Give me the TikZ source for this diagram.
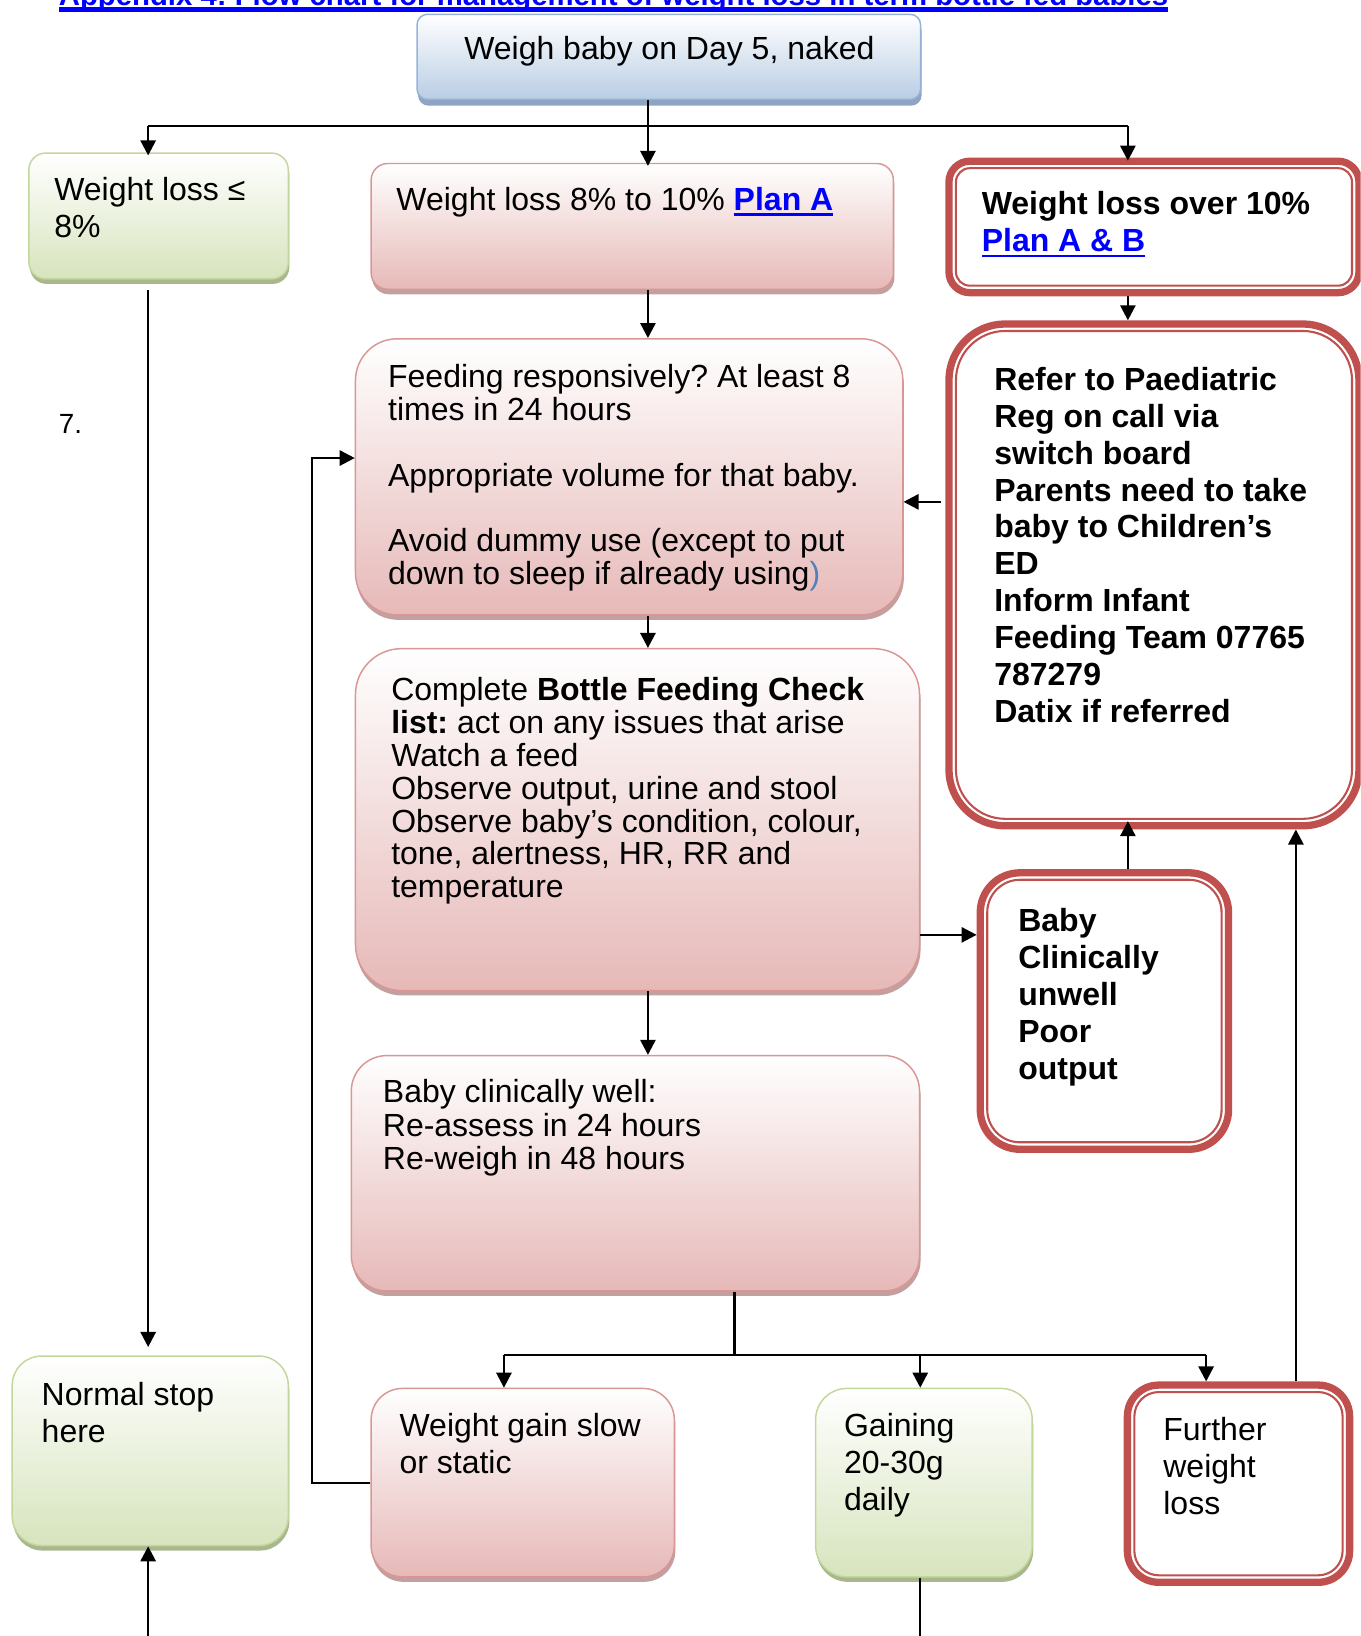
\documentclass[tikz,border=0pt]{standalone}
\usepackage{fontspec}
\setmainfont{Liberation Sans}
\frenchspacing
\usetikzlibrary{arrows.meta,shadows}
\definecolor{bluebot}{HTML}{B9CDE5}
\definecolor{blueedge}{HTML}{95B3D7}
\definecolor{blueshadow}{HTML}{8EA4C2}
\definecolor{greenbot}{HTML}{D7E4BD}
\definecolor{greenedge}{HTML}{C3D69B}
\definecolor{greenshadow}{HTML}{A9B78C}
\definecolor{pinkbot}{HTML}{E6B9B8}
\definecolor{pinkedge}{HTML}{D99694}
\definecolor{pinkshadow}{HTML}{C2A0A0}
\definecolor{redc}{HTML}{C0504D}
\definecolor{linkblue}{HTML}{0000FF}
\definecolor{parenblue}{HTML}{4F81BD}
\newcommand\tlines[1]{\begin{tabular}[t]{@{}l@{}}#1\end{tabular}}
\newcommand\undl[3]{\setbox0\hbox{#1}\rlap{\rule[#2]{\wd0}{#3}}\box0}
\newcommand\bw{1.4}
\newcommand\flowbox[9]{%
  \pgfmathsetmacro\fbLW{\bw*0.5}%
  \pgfmathsetmacro\fbOS{\bw*0.25}%
  \pgfmathsetmacro\fbPW{(#5-#3-\bw)*0.5}%
  \pgfmathsetmacro\fbPH{(#6-#4-\bw)*0.5}%
  \pgfmathsetmacro\fbXS{(#7-#3-\bw/2)*0.5}%
  \pgfmathsetmacro\fbTW{\fbPW-2*\fbXS}%
  \pgfmathsetmacro\fbTH{(#8-#4-\bw/2)*0.5}%
  \pgfmathsetmacro\fbTD{\fbPH-\fbTH}%
  \node[#2, line width=\fbLW pt, outer sep=\fbOS pt, anchor=north west,
        inner xsep=\fbXS pt, inner ysep=0pt, minimum width=\fbPW pt,
        minimum height=\fbPH pt, text height=\fbTH pt, text depth=\fbTD pt]
        (#1) at (#3,#4) {\makebox[\fbTW pt][l]{#9}};%
}
\newcommand\redflowbox[9]{%
  \renewcommand\bw{7}%
  \flowbox{#1}{redbox, rounded corners=#2pt}{#3}{#4}{#5}{#6}{#7}{#8}{#9}%
  \pgfmathsetmacro\fbIR{#2-3.35}%
  \draw[redc, line width=1pt, rounded corners=\fbIR pt]
    ([shift={(5.1pt,-5.1pt)}]#1.north west) rectangle ([shift={(-5.1pt,5.1pt)}]#1.south east);%
  \renewcommand\bw{1.4}%
}
\tikzset{
  basebox/.style={draw, rectangle},
  bluebox/.style={basebox, draw=blueedge, top color=white, bottom color=bluebot,
    general shadow={fill=blueshadow, shadow yshift=-3pt, shadow xshift=0.5pt}},
  greenbox/.style={basebox, draw=greenedge, top color=white, bottom color=greenbot,
    general shadow={fill=greenshadow, shadow yshift=-2.4pt, shadow xshift=0.5pt}},
  pinkbox/.style={basebox, draw=pinkedge, top color=white, bottom color=pinkbot,
    general shadow={fill=pinkshadow, shadow yshift=-2.4pt, shadow xshift=0.5pt}},
  redbox/.style={basebox, draw=redc, fill=white, font=\fontsize{15.33}{17.7}\selectfont\bfseries},
  txt/.style={font=\fontsize{15.33}{17.7}\selectfont},
  txttight/.style={font=\fontsize{15.33}{15.65}\selectfont},
  txtwell/.style={font=\fontsize{15.33}{16}\selectfont},
  conn/.style={draw=black, line width=1pt},
  arr/.style={conn, -{Triangle[length=7.2pt,width=7.3pt]}},
}
\begin{document}
\begin{tikzpicture}[x=0.5pt, y=-0.5pt]
\useasboundingbox (0,0) rectangle (1304,1568);
\clip (0,0) rectangle (1304,1568);

% title (cut off at top, as in the reference)
\node[anchor=base west, inner sep=0pt, font=\fontsize{14.05}{16}\selectfont\bfseries, text=linkblue]
  (title) at (56,5.5) {\undl{Appendix 4: Flow chart for management of weight loss in term bottle fed babies}{-2.85pt}{2.1pt}};

\node[anchor=base west, inner sep=0pt, font=\fontsize{13.3}{15}\selectfont] (seven) at (56,415) {7.};

% boxes
\flowbox{top}{bluebox, rounded corners=5pt, txt}{399}{13}{883}{96}{445}{57}{\tlines{Weigh baby on Day 5, naked}}
\flowbox{le8}{greenbox, rounded corners=8pt, txt}{27}{146}{277}{268}{52}{192}{\tlines{Weight loss ≤\\8\%}}
\flowbox{planA}{pinkbox, rounded corners=8pt, txt}{355}{156}{857}{278}{380}{201.5}{\tlines{Weight loss 8\% to 10\% \textbf{\textcolor{linkblue}{\undl{Plan A}{-2.6pt}{1.1pt}}}}}
\redflowbox{over10}{10}{906}{151}{1306}{284}{941}{206}{\tlines{Weight loss over 10\%\\\textcolor{linkblue}{\undl{Plan A \& B}{-2.6pt}{1.1pt}}}}
\redflowbox{refer}{27}{906}{307}{1306}{795}{953}{374}{\tlines{Refer to Paediatric\\Reg on call via\\switch board\\Parents need to take\\baby to Children’s\\ED\\Inform Infant\\Feeding Team 07765\\787279\\Datix if referred}}
\flowbox{feeding}{pinkbox, rounded corners=20pt, txttight}{340}{324}{866}{590}{372}{371.6}{\tlines{Feeding responsively? At least 8\\times in 24 hours\\ \\Appropriate volume for that baby.\\ \\Avoid dummy use (except to put\\down to sleep if already using\textcolor{parenblue}{)}}}
\flowbox{complete}{pinkbox, rounded corners=22pt, txttight}{340}{621}{882}{950}{375}{671}{\tlines{Complete \textbf{Bottle Feeding Check}\\\textbf{list:} act on any issues that arise\\Watch a feed\\Observe output, urine and stool\\Observe baby’s condition, colour,\\tone, alertness, HR, RR and\\temperature}}
\redflowbox{unwell}{19}{936}{833}{1181}{1105}{976}{893}{\tlines{Baby\\Clinically\\unwell\\Poor\\output}}
\flowbox{well}{pinkbox, rounded corners=17pt, txtwell}{336}{1011}{882}{1238}{367}{1057}{\tlines{Baby clinically well:\\Re-assess in 24 hours\\Re-weigh in 48 hours}}
\flowbox{normal}{greenbox, rounded corners=14pt, txt}{11}{1299}{277}{1482}{40}{1347}{\tlines{Normal stop\\here}}
\flowbox{slow}{pinkbox, rounded corners=15pt, txt}{355}{1330}{647}{1512}{383}{1377}{\tlines{Weight gain slow\\or static}}
\flowbox{gaining}{greenbox, rounded corners=15pt, txt}{781}{1330}{990}{1512}{809}{1377}{\tlines{Gaining\\20-30g\\daily}}
\redflowbox{further}{15}{1077}{1324}{1297}{1520}{1115}{1381}{\mdseries\tlines{Further\\weight\\loss}}

% connectors
\coordinate (jA) at (621,121);
\coordinate (jL) at (142,121);
\coordinate (jR) at (1081,121);
\draw[conn] (jA |- top.south) -- (jA);
\draw[conn] (jL) -- (jR);
\draw[arr, shorten >=-1.5pt] (jL) -- (jL |- le8.north);
\draw[arr, shorten >=-1.5pt] (jA) -- (jA |- planA.north);
\draw[arr, shorten >=-1.5pt] (jR) -- (jR |- over10.north);
\draw[arr] (jA |- planA.south) -- (jA |- feeding.north);
\draw[arr] (jR |- over10.south) -- (jR |- refer.north);
\coordinate (rf) at (902,481);
\draw[arr] (rf) -- (rf -| feeding.east);
\draw[arr] (jA |- feeding.south) -- (jA |- complete.north);
\coordinate (cu) at (882,896);
\draw[arr] (cu -| complete.east) -- (cu -| unwell.west);
\draw[arr, shorten >=-4pt] (jR |- unwell.north) -- (jR |- refer.south);
\draw[arr] (jA |- complete.south) -- (jA |- well.north);
\coordinate (jB) at (704,1299);
\coordinate (jBL) at (483,1299);
\coordinate (jBM) at (882,1299);
\coordinate (jBR) at (1156,1299);
\draw[conn] (jB |- well.south) -- (jB);
\draw[conn] (jBL) -- (jBR);
\draw[arr] (jBL) -- (jBL |- slow.north);
\draw[arr] (jBM) -- (jBM |- gaining.north);
\draw[arr] (jBR) -- (jBR |- further.north);
\coordinate (fx) at (1242,1000);
\draw[arr] (fx |- further.north) -- (fx |- refer.south);
\coordinate (lb) at (299,439);
\draw[arr] (slow.west) -| (lb) -- (lb -| feeding.west);
\draw[arr, shorten <=5pt, shorten >=4pt] (jL |- le8.south) -- (jL |- normal.north);
\coordinate (nb) at (142,1580);
\draw[arr] (nb) -- (nb |- normal.south);
\coordinate (gb) at (882,1580);
\draw[conn] (gb |- gaining.south) -- (gb);
\end{tikzpicture}
\end{document}
